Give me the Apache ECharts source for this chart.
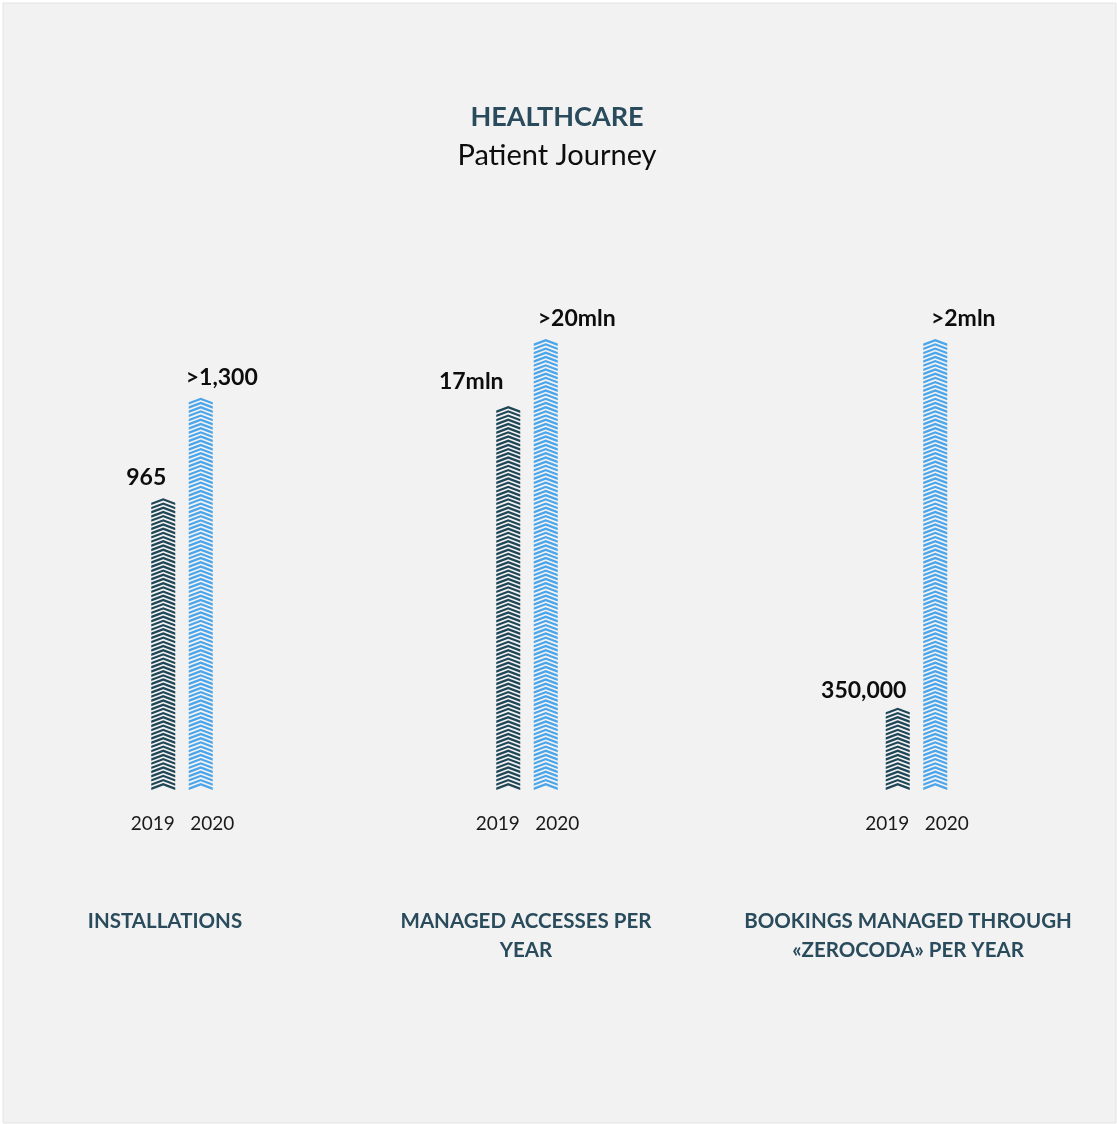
<!DOCTYPE html>
<html>
<head>
<meta charset="utf-8">
<title>Healthcare - Patient Journey</title>
<script src="https://cdn.jsdelivr.net/npm/echarts@6/dist/echarts.min.js"></script>
<style>
    html, body { margin: 0; padding: 0; background: #ffffff; }
    #main-chart { width: 1117px; height: 1124px; }
</style>
</head>
<body>
<div id="main-chart"></div>
<script>
// data
var years = ['2019', '2020'];
var groupNames = ['INSTALLATIONS', 'MANAGED ACCESSES PER\nYEAR', 'BOOKINGS MANAGED THROUGH\n«ZEROCODA» PER YEAR'];
var installations = [965, 1300];
var accessesMln = [17, 20];
var bookings = [350000, 2000000];
var installationsLabels = ['965', '>1,300'];
var accessesLabels = ['17mln', '>20mln'];
var bookingsLabels = ['350,000', '>2mln'];
var axisMax = [1500, 20, 2000000];

var darkColor = '#1f4657';
var blueColor = '#4aa5ea';
var titleColor = '#294b5c';
var fontName = 'Lato';

// chevron shape, repeated along the bar
var chevron = 'path://M0,45 L120,0 L240,45 L240,69 L120,24 L0,69 Z';

var myChart = echarts.init(document.getElementById('main-chart'));

var gridCenters = [182, 527, 916.5];
var labelOffsets = [
    [[-17, 0], [21, 0]],
    [[-37, -4], [31, 0]],
    [[-34, 3], [28, 0]]
];
var allValues = [installations, accessesMln, bookings];
var allLabels = [installationsLabels, accessesLabels, bookingsLabels];

var grids = [], xAxes = [], yAxes = [], series = [];
for (var g = 0; g < 3; g++) {
    grids.push({left: gridCenters[g] - 37.5, width: 75, top: 339, bottom: 334});
    xAxes.push({
        type: 'category',
        gridIndex: g,
        data: [
            {value: years[0], textStyle: {padding: [0, 21, 0, 0]}},
            {value: years[1], textStyle: {padding: [0, 0, 0, 23]}}
        ],
        axisLine: {show: false},
        axisTick: {show: false},
        axisLabel: {interval: 0, hideOverlap: false, margin: 24, fontSize: 19, color: '#1a1a1a', fontFamily: fontName}
    });
    yAxes.push({
        type: 'value',
        gridIndex: g,
        min: 0,
        max: axisMax[g],
        show: false,
        splitLine: {show: false}
    });
    var items = [];
    for (var i = 0; i < 2; i++) {
        items.push({
            value: allValues[g][i],
            itemStyle: {color: i === 0 ? darkColor : blueColor},
            label: {
                show: true,
                position: 'top',
                distance: 9,
                offset: labelOffsets[g][i],
                formatter: allLabels[g][i],
                fontSize: 23,
                fontWeight: 'bold',
                fontFamily: fontName,
                color: '#0d0d0d'
            }
        });
    }
    series.push({
        type: 'pictorialBar',
        xAxisIndex: g,
        yAxisIndex: g,
        symbol: chevron,
        symbolRepeat: true,
        symbolKeepAspect: false,
        symbolSize: [24, 6.9],
        symbolMargin: -1.35,
        animation: false,
        data: items
    });
}

var option = {
    backgroundColor: '#ffffff',
    graphic: [
        {
            type: 'rect',
            shape: {x: 3, y: 3, width: 1113, height: 1120},
            style: {fill: '#f2f2f2', stroke: '#e3e3e3', lineWidth: 1},
            z: -10
        },
        {
            type: 'text',
            style: {x: 557, y: 117, text: 'HEALTHCARE', align: 'center', verticalAlign: 'middle',
                fontSize: 27, fontWeight: 'bold', fontFamily: fontName, fill: titleColor}
        },
        {
            type: 'text',
            style: {x: 557, y: 156, text: 'Patient Journey', align: 'center', verticalAlign: 'middle',
                fontSize: 29, fontFamily: fontName, fill: '#0d0d0d'}
        },
        {
            type: 'text',
            style: {x: 165, y: 921, text: groupNames[0], align: 'center', verticalAlign: 'middle',
                fontSize: 20.5, fontWeight: 'bold', fontFamily: fontName, fill: titleColor, lineHeight: 29}
        },
        {
            type: 'text',
            style: {x: 526, y: 935.5, text: groupNames[1], align: 'center', verticalAlign: 'middle',
                fontSize: 20.5, fontWeight: 'bold', fontFamily: fontName, fill: titleColor, lineHeight: 29}
        },
        {
            type: 'text',
            style: {x: 908, y: 935.5, text: groupNames[2], align: 'center', verticalAlign: 'middle',
                fontSize: 20.5, fontWeight: 'bold', fontFamily: fontName, fill: titleColor, lineHeight: 29}
        }
    ],
    grid: grids,
    xAxis: xAxes,
    yAxis: yAxes,
    series: series
};
myChart.setOption(option);
</script>
</body>
</html>
